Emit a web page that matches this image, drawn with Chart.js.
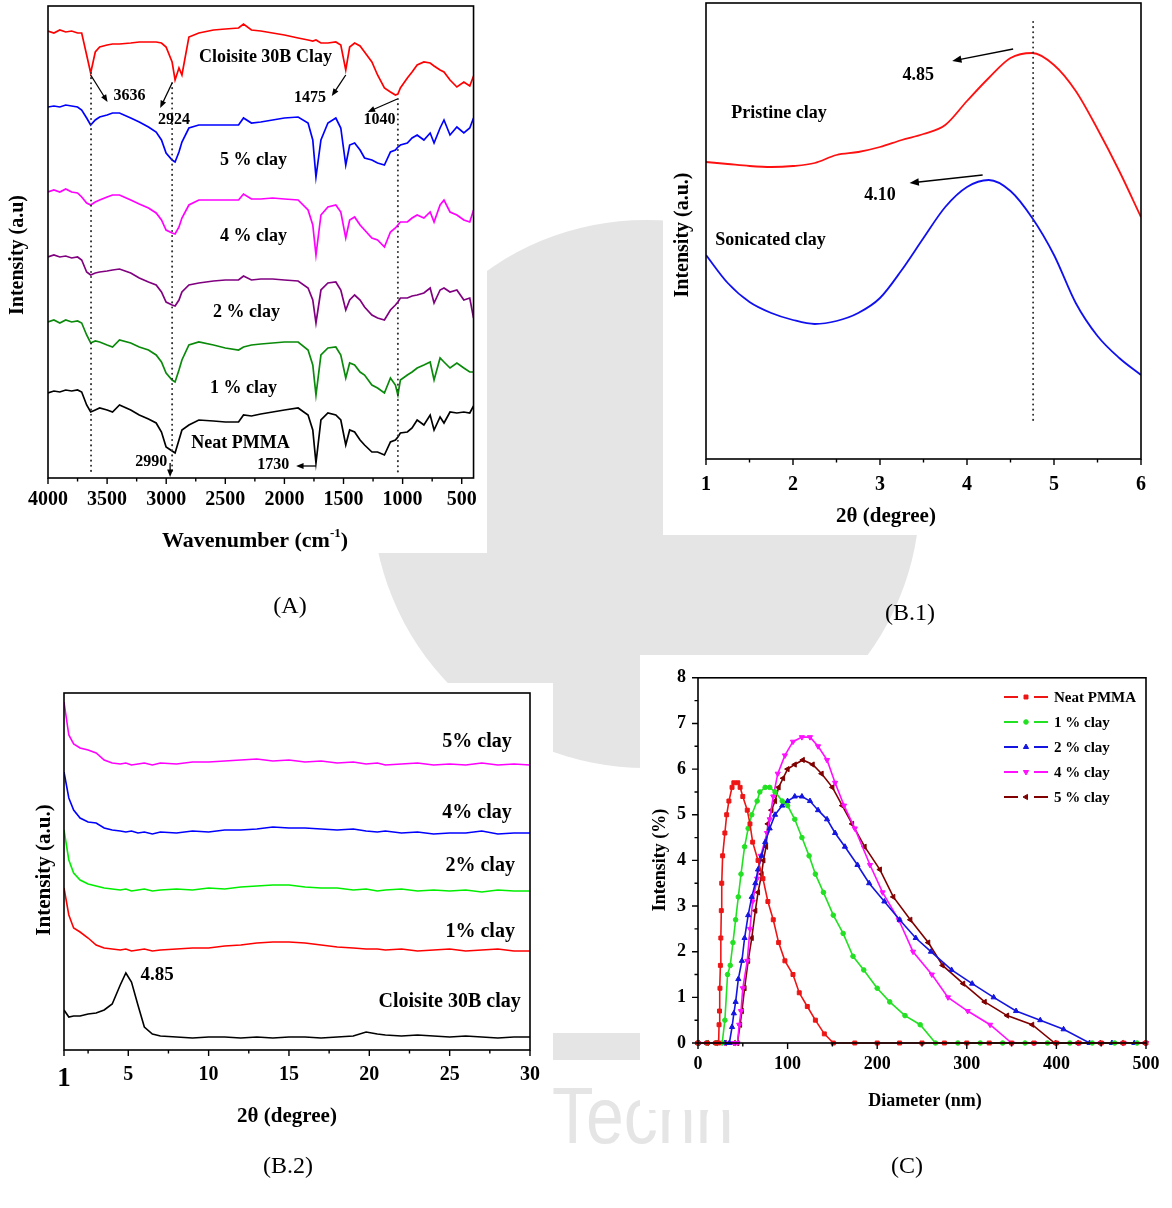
<!DOCTYPE html>
<html>
<head>
<meta charset="utf-8">
<title>PMMA / Cloisite 30B characterisation</title>
<script src="https://cdn.jsdelivr.net/npm/chart.js@4.4.1/dist/chart.umd.min.js"></script>
<style>
  html, body { margin: 0; padding: 0; background: #fff; }
  body { position: relative; width: 1172px; height: 1208px; overflow: hidden; }
  canvas { display: block; }
  #wash { position: absolute; left: 0; top: 0; }
  .panel { position: absolute; background: #fff; }
  .cap { position: absolute; font: 24px "Liberation Serif", serif; color: #000;
         transform: translate(-50%, -50%); white-space: nowrap; }
</style>
</head>
<body>
<canvas id="wash" width="1172" height="1208"></canvas>
<div class="panel" style="left:0;top:0;width:487px;height:553px"><canvas id="ftir" width="487" height="553"></canvas></div>
<div class="panel" style="left:663px;top:0;width:509px;height:535px"><canvas id="xrdLow" width="509" height="535"></canvas></div>
<div class="panel" style="left:30px;top:683px;width:523px;height:457px"><canvas id="xrdComp" width="523" height="457"></canvas></div>
<div class="panel" style="left:640px;top:655px;width:532px;height:455px"><canvas id="dls" width="532" height="455"></canvas></div>
<div class="cap" style="left:290px;top:605px">(A)</div>
<div class="cap" style="left:910px;top:612px">(B.1)</div>
<div class="cap" style="left:288px;top:1165px">(B.2)</div>
<div class="cap" style="left:907px;top:1165px">(C)</div>

<script>
const SERIF = '"Liberation Serif", "Times New Roman", serif';

// ===== (A) FTIR spectra, offset intensity (a.u.) =====
const ftirWn = [4000, 3950, 3900, 3850, 3800, 3750, 3715, 3673, 3639, 3600, 3563, 3500, 3454, 3395,
  3300, 3228, 3150, 3085, 3040, 3001, 2950, 2925, 2892, 2867, 2808, 2724, 2600, 2500, 2388, 2346,
  2279, 2200, 2100, 2000, 1884, 1800, 1760, 1733, 1691, 1632, 1565, 1523, 1481, 1448, 1406, 1360,
  1322, 1260, 1212, 1154, 1103, 1061, 1040, 1019, 960, 920, 877, 820, 767, 734, 683, 650, 599,
  541, 482, 432, 400];
const ftirClay = [447, 445, 448, 446, 447, 445, 445, 423, 405, 426, 431, 433, 434, 434, 435, 436, 436,
  436, 435, 431, 416, 398, 410, 403, 441, 445, 448, 449, 450, 454, 448, 447, 445, 443, 440, 438, 437,
  438, 435, 435, 436, 433, 408, 431, 435, 432, 426, 416, 403, 390, 386, 383, 384, 390, 400, 406, 413,
  416, 415, 412, 408, 406, 398, 391, 396, 392, 402];
const ftir5 = [371, 372, 371, 373, 372, 371, 368, 360, 353, 358, 361, 363, 365, 365, 360, 356, 351,
  346, 338, 325, 318, 316, 326, 336, 350, 353, 353, 353, 353, 360, 355, 356, 358, 360, 361, 355, 338,
  301, 338, 355, 360, 350, 313, 333, 335, 328, 320, 318, 315, 313, 326, 328, 331, 333, 335, 340, 343,
  338, 345, 335, 350, 358, 343, 351, 345, 350, 360];
const ftir4 = [286, 288, 286, 289, 286, 285, 281, 275, 273, 276, 278, 281, 283, 283, 278, 274, 270,
  265, 258, 248, 245, 244, 251, 260, 273, 278, 278, 278, 278, 284, 279, 279, 280, 279, 278, 268, 253,
  223, 263, 271, 273, 266, 240, 258, 261, 253, 248, 240, 238, 231, 246, 250, 253, 256, 256, 260, 263,
  260, 266, 256, 273, 278, 266, 263, 258, 256, 268];
const ftir2 = [221, 223, 221, 222, 220, 221, 218, 206, 203, 205, 206, 207, 208, 209, 205, 200, 196,
  193, 186, 176, 173, 172, 178, 186, 193, 195, 197, 198, 198, 202, 198, 199, 199, 198, 197, 190, 178,
  155, 188, 195, 196, 188, 168, 178, 183, 178, 171, 163, 160, 158, 168, 173, 176, 180, 180, 182, 183,
  185, 190, 175, 188, 190, 186, 188, 178, 180, 160];
const ftir1 = [156, 158, 155, 158, 156, 157, 155, 143, 135, 137, 136, 133, 131, 138, 135, 131, 128,
  123, 116, 105, 98, 96, 108, 118, 133, 136, 133, 130, 128, 131, 133, 134, 135, 136, 136, 128, 113,
  83, 123, 130, 131, 123, 100, 115, 113, 106, 103, 93, 90, 85, 100, 93, 83, 98, 103, 106, 110, 113,
  116, 98, 120, 116, 110, 115, 110, 106, 106];
const ftirNeat = [85, 87, 86, 88, 87, 88, 86, 73, 66, 68, 70, 68, 66, 73, 68, 63, 59, 55, 46, 31, 27,
  25, 38, 48, 53, 58, 57, 56, 56, 63, 62, 64, 66, 68, 70, 63, 48, 15, 58, 65, 63, 58, 33, 48, 46, 38,
  33, 26, 26, 23, 36, 38, 41, 45, 46, 50, 58, 53, 63, 48, 61, 55, 66, 65, 66, 65, 72];
const ftirTicks = [4000, 3500, 3000, 2500, 2000, 1500, 1000, 500];
const ftirTags = [['Cloisite 30B Clay', 2161, 421], ['5 % clay', 2262, 318], ['4 % clay', 2262, 242],
  ['2 % clay', 2321, 166], ['1 % clay', 2346, 90], ['Neat PMMA', 2371, 35]];
const ftirPeaks = [['3636', 3311, 382], ['2924', 2934, 358], ['1475', 1783, 380], ['1040', 1196, 358],
  ['2990', 3127, 16], ['1730', 2094, 13]];
const ftirGuides = [[3636, 405], [2950, 395], [1040, 379]];
const ftirArrows = [[3639, 403, 3496, 376], [2950, 395, 3051, 370], [1481, 403, 1599, 382],
  [1045, 379, 1296, 366], [2967, 15, 2967, 1], [1733, 12, 1901, 12]];

// ===== (B.1) low-angle XRD of the clay =====
const lowAngle = [1, 1.25, 1.5, 1.75, 2, 2.25, 2.5, 2.75, 3, 3.25, 3.5, 3.75, 4, 4.25, 4.5, 4.75, 5,
  5.25, 5.5, 5.75, 6];
const pristine = [297, 295, 293, 292, 293, 296, 304, 307, 312, 319, 325, 334, 358, 381, 401, 406, 394,
  368, 330, 288, 242];
const sonicated = [204, 176, 157, 146, 139, 135, 138, 146, 161, 189, 221, 252, 272, 279, 268, 241, 204,
  156, 123, 101, 84];
const lowTags = [['Pristine clay', 1.84, 346], ['Sonicated clay', 1.74, 219], ['4.85', 3.44, 384],
  ['4.10', 3.0, 264]];
const lowArrows = [[4.53, 410, 3.83, 398], [4.18, 284, 3.34, 276]];
const lowGuide = [4.76, 39, 437];

// ===== (B.2) XRD of the composites =====
const compAngle = [1, 1.3, 1.6, 2, 2.5, 3, 3.5, 4, 4.5, 4.85, 5.2, 5.6, 6, 6.5, 7, 8, 9, 10, 11, 12,
  13, 14, 15, 16, 17, 18, 19, 19.8, 20.5, 21, 22, 23, 24, 25, 26, 27, 28, 29, 30];
const comp5 = [348, 315, 306, 302, 300, 297, 290, 287, 286, 287, 285, 286, 287, 285, 287, 286, 288, 288,
  289, 290, 291, 289, 290, 288, 289, 287, 288, 286, 287, 285, 286, 287, 285, 286, 285, 287, 285, 286, 285];
const comp4 = [278, 252, 240, 232, 228, 227, 222, 220, 219, 218, 219, 217, 218, 216, 218, 217, 219, 218,
  220, 220, 221, 223, 222, 222, 221, 220, 221, 219, 218, 219, 217, 218, 216, 217, 217, 219, 216, 217, 217];
const comp2 = [220, 190, 177, 170, 166, 164, 162, 161, 160, 161, 159, 160, 161, 159, 160, 161, 160, 162,
  161, 163, 164, 165, 165, 163, 162, 162, 160, 161, 159, 160, 161, 159, 160, 159, 160, 158, 160, 159, 159];
const comp1 = [162, 135, 122, 118, 112, 105, 102, 101, 100, 101, 99, 100, 101, 99, 100, 101, 102, 102,
  104, 105, 107, 108, 108, 107, 105, 103, 102, 101, 101, 100, 101, 99, 100, 101, 99, 100, 101, 99, 99];
const compClay = [40, 33, 34, 34, 36, 37, 40, 46, 65, 77, 68, 45, 23, 16, 14, 13, 12, 13, 13, 12, 13, 12,
  13, 13, 12, 13, 14, 18, 16, 15, 14, 15, 14, 13, 14, 13, 12, 13, 13];
const compTicks = [1, 5, 10, 15, 20, 25, 30];
const compTags = [['5% clay', 26.7, 308], ['4% clay', 26.7, 237], ['2% clay', 26.9, 184],
  ['1% clay', 26.9, 118], ['Cloisite 30B clay', 25.0, 48], ['4.85', 6.8, 75]];

// ===== (C) DLS size distribution =====
const neatD = [0, 10, 20, 23, 23.5, 24, 24.5, 25, 25.5, 26, 26.5, 27.5, 30, 32, 34.5, 38, 40, 44.5, 47,
  50, 55, 58, 61, 67, 72.5, 78, 84, 90, 97, 106, 113, 122, 131, 141, 151, 175, 200, 225, 250, 275, 300,
  325, 350, 375, 400, 425, 450, 475, 500];
const neatI = [0, 0, 0, 0, 0.4, 0.7, 1.2, 1.7, 2.3, 2.9, 3.5, 4.1, 4.6, 5.0, 5.3, 5.6, 5.7, 5.7, 5.6,
  5.4, 5.1, 4.8, 4.4, 4.0, 3.6, 3.1, 2.7, 2.2, 1.8, 1.5, 1.1, 0.8, 0.5, 0.2, 0, 0, 0, 0, 0, 0, 0, 0,
  0, 0, 0, 0, 0, 0, 0];
const clay1D = [0, 10, 20, 27, 30, 33, 36, 39, 42, 45, 48, 52, 56, 60, 66, 69, 75, 80, 86, 94, 100, 108,
  116, 124, 131, 140, 151, 162, 173, 185, 200, 214, 231, 248, 265, 290, 315, 340, 365, 390, 415, 440,
  465, 490];
const clay1I = [0, 0, 0, 0, 0.5, 1.5, 1.7, 2.2, 2.7, 3.2, 3.7, 4.3, 4.7, 5.0, 5.3, 5.5, 5.6, 5.6, 5.5,
  5.3, 5.2, 4.9, 4.5, 4.1, 3.7, 3.3, 2.8, 2.4, 1.9, 1.6, 1.2, 0.9, 0.6, 0.4, 0, 0, 0, 0, 0, 0, 0, 0, 0, 0];
const clay2D = [0, 10, 20, 30, 35, 38, 40, 42, 45, 49, 52, 56, 60, 64, 67, 71, 75, 80, 86, 94, 100, 108,
  116, 125, 134, 144, 153, 164, 178, 191, 208, 225, 243, 260, 283, 306, 330, 355, 382, 408, 437, 462, 487];
const clay2I = [0, 0, 0, 0, 0, 0.35, 0.65, 0.9, 1.4, 1.8, 2.3, 2.8, 3.2, 3.5, 3.8, 4.1, 4.4, 4.7, 5.0,
  5.2, 5.3, 5.4, 5.4, 5.3, 5.1, 4.9, 4.6, 4.3, 3.9, 3.5, 3.1, 2.7, 2.3, 2.0, 1.6, 1.3, 1.0, 0.7, 0.5,
  0.3, 0, 0, 0];
const clay4D = [0, 10, 20, 30, 40, 44, 46, 48, 50, 55, 58, 61, 66, 70, 77, 80, 84, 89, 97, 106, 116, 125,
  134, 144, 153, 163, 175, 192, 206, 224, 240, 261, 279, 301, 326, 350, 375, 400, 425, 450, 475, 500];
const clay4I = [0, 0, 0, 0, 0, 0, 0.4, 0.7, 1.2, 1.8, 2.5, 3.1, 3.6, 4.1, 4.6, 4.9, 5.4, 5.9, 6.3, 6.6,
  6.7, 6.7, 6.5, 6.2, 5.7, 5.2, 4.7, 3.9, 3.3, 2.7, 2.0, 1.5, 1.0, 0.7, 0.4, 0, 0, 0, 0, 0, 0, 0];
const clay5D = [0, 10, 20, 30, 40, 44, 47, 49, 52, 56, 60, 64, 67, 71, 73, 76, 78, 82, 86, 90, 95, 100,
  108, 117, 128, 138, 150, 161, 172, 186, 203, 218, 237, 257, 273, 296, 320, 345, 373, 398, 423, 448,
  473, 498];
const clay5I = [0, 0, 0, 0, 0, 0, 0.4, 0.7, 1.2, 1.8, 2.3, 2.9, 3.3, 3.7, 4.0, 4.3, 4.8, 5.1, 5.3, 5.6,
  5.8, 6.0, 6.1, 6.2, 6.1, 5.9, 5.6, 5.2, 4.8, 4.3, 3.8, 3.2, 2.7, 2.2, 1.7, 1.3, 0.9, 0.6, 0.4, 0, 0,
  0, 0, 0];

// ===== helpers =====
function xy(xs, ys) { return xs.map((v, i) => ({ x: v, y: ys[i] })); }
function font(size, weight) { return `${weight || 'bold'} ${size}px ${SERIF}`; }

function text(ctx, s, x, y, size, align) {
  ctx.font = font(size);
  ctx.textAlign = align || 'center';
  ctx.textBaseline = 'middle';
  ctx.fillStyle = '#000';
  ctx.fillText(s, x, y);
}

function vText(ctx, s, x, y, size) {
  ctx.save();
  ctx.translate(x, y);
  ctx.rotate(-Math.PI / 2);
  text(ctx, s, 0, 0, size);
  ctx.restore();
}

function arrow(ctx, x1, y1, x2, y2, head) {
  const a = Math.atan2(y2 - y1, x2 - x1);
  ctx.beginPath();
  ctx.moveTo(x1, y1);
  ctx.lineTo(x2 - head * 0.7 * Math.cos(a), y2 - head * 0.7 * Math.sin(a));
  ctx.stroke();
  ctx.beginPath();
  ctx.moveTo(x2, y2);
  ctx.lineTo(x2 - head * Math.cos(a - 0.38), y2 - head * Math.sin(a - 0.38));
  ctx.lineTo(x2 - head * Math.cos(a + 0.38), y2 - head * Math.sin(a + 0.38));
  ctx.closePath();
  ctx.fill();
}

function dotted(ctx, x1, y1, x2, y2) {
  ctx.save();
  ctx.setLineDash([0.1, 5]);
  ctx.lineCap = 'round';
  ctx.lineWidth = 2;
  ctx.strokeStyle = '#333';
  ctx.beginPath();
  ctx.moveTo(x1, y1);
  ctx.lineTo(x2, y2);
  ctx.stroke();
  ctx.restore();
}

function minorValues(scale, step) {
  const majors = scale.ticks.map(t => t.value);
  const out = [];
  for (let v = Math.ceil(scale.min / step - 1e-9) * step; v <= scale.max + 1e-9; v += step) {
    if (!majors.some(m => Math.abs(m - v) < step / 10)) out.push(v);
  }
  return out;
}

// box frame with outward major/minor ticks on the bottom (and left when asked)
function boxAxes(xMinor, yMinor) {
  return {
    id: 'boxAxes',
    afterDatasetsDraw(chart) {
      const { ctx, chartArea: a, scales: { x, y } } = chart;
      ctx.save();
      ctx.strokeStyle = '#000';
      ctx.lineWidth = 1.6;
      ctx.strokeRect(a.left, a.top, a.right - a.left, a.bottom - a.top);
      ctx.lineWidth = 1.4;
      ctx.beginPath();
      x.ticks.forEach(t => {
        const p = x.getPixelForValue(t.value);
        ctx.moveTo(p, a.bottom); ctx.lineTo(p, a.bottom + 6);
      });
      minorValues(x, xMinor).forEach(v => {
        const p = x.getPixelForValue(v);
        ctx.moveTo(p, a.bottom); ctx.lineTo(p, a.bottom + 3.5);
      });
      if (yMinor) {
        y.ticks.forEach(t => {
          const p = y.getPixelForValue(t.value);
          ctx.moveTo(a.left, p); ctx.lineTo(a.left - 6, p);
        });
        minorValues(y, yMinor).forEach(v => {
          const p = y.getPixelForValue(v);
          ctx.moveTo(a.left, p); ctx.lineTo(a.left - 3.5, p);
        });
      }
      ctx.stroke();
      ctx.restore();
    }
  };
}

function bottomAxis(o) {
  return {
    type: 'linear', min: o.min, max: o.max, reverse: !!o.reverse,
    afterFit: s => { s.height = o.height; },
    afterBuildTicks: o.ticks ? s => { s.ticks = o.ticks.map(v => ({ value: v })); } : undefined,
    grid: { display: false, drawTicks: false },
    border: { display: false },
    ticks: {
      stepSize: o.step, includeBounds: false, autoSkip: false, maxRotation: 0, minRotation: 0,
      padding: o.pad, color: '#000', callback: v => String(v),
      font: o.font || { family: SERIF, size: o.size, weight: 'bold' }
    }
  };
}

function baseOptions(padding, scales) {
  return {
    responsive: false, animation: false, events: [],
    layout: { autoPadding: false, padding },
    plugins: { legend: { display: false }, tooltip: { enabled: false } },
    scales
  };
}

// ===== page watermark behind the panels =====
(function drawWash() {
  const c = document.getElementById('wash').getContext('2d');
  c.fillStyle = '#e5e5e5';
  c.beginPath();
  c.arc(646, 494, 274, 0, Math.PI * 2);
  c.fill();
  c.fillRect(552, 1033, 90, 27);
  c.save();
  c.scale(0.85, 1);
  c.font = '80px "Liberation Sans", sans-serif';
  c.textBaseline = 'alphabetic';
  c.fillText('Techn', 552 / 0.85, 1143);
  c.restore();
})();

// ===== (A) =====
const ftirNotes = {
  id: 'ftirNotes',
  afterDraw(chart) {
    const { ctx, chartArea: a, scales: { x, y } } = chart;
    ctx.save();
    ftirGuides.forEach(([w, top]) => {
      const px = x.getPixelForValue(w);
      dotted(ctx, px, y.getPixelForValue(top), px, a.bottom - 4);
    });
    ctx.strokeStyle = '#000';
    ctx.fillStyle = '#000';
    ctx.lineWidth = 1.3;
    ftirArrows.forEach(([w1, i1, w2, i2]) => arrow(ctx,
      x.getPixelForValue(w1), y.getPixelForValue(i1), x.getPixelForValue(w2), y.getPixelForValue(i2), 8));
    ftirTags.forEach(([s, w, i]) => text(ctx, s, x.getPixelForValue(w), y.getPixelForValue(i), 18));
    ftirPeaks.forEach(([s, w, i]) => text(ctx, s, x.getPixelForValue(w), y.getPixelForValue(i), 16));

    // axis titles
    const main = 'Wavenumber (cm', sup = '-1', tail = ')';
    ctx.font = font(22);
    const w1 = ctx.measureText(main).width, w3 = ctx.measureText(tail).width;
    ctx.font = font(13);
    const w2 = ctx.measureText(sup).width;
    let tx = 255 - (w1 + w2 + w3) / 2;
    ctx.textAlign = 'left';
    ctx.textBaseline = 'alphabetic';
    ctx.font = font(22); ctx.fillText(main, tx, 547); tx += w1;
    ctx.font = font(13); ctx.fillText(sup, tx, 537); tx += w2;
    ctx.font = font(22); ctx.fillText(tail, tx, 547);
    vText(ctx, 'Intensity (a.u)', 18, 255, 20);
    ctx.restore();
  }
};

const ftirSeries = [
  { color: '#ff0000', values: ftirClay },
  { color: '#0000ff', values: ftir5 },
  { color: '#ff00ff', values: ftir4 },
  { color: '#800080', values: ftir2 },
  { color: '#0a8a0a', values: ftir1 },
  { color: '#000000', values: ftirNeat }
];

new Chart(document.getElementById('ftir'), {
  type: 'line',
  data: {
    datasets: ftirSeries.map(s => ({
      data: xy(ftirWn, s.values), borderColor: s.color, borderWidth: 1.7, pointRadius: 0, tension: 0
    }))
  },
  options: baseOptions({ left: 48, top: 6, right: 10, bottom: 0 }, {
    x: bottomAxis({ min: 400, max: 4000, reverse: true, ticks: ftirTicks, height: 75, pad: 10, size: 20 }),
    y: { display: false, min: 0, max: 472 }
  }),
  plugins: [boxAxes(250), ftirNotes]
});

// ===== (B.1) =====
const lowNotes = {
  id: 'lowNotes',
  afterDraw(chart) {
    const { ctx, scales: { x, y } } = chart;
    ctx.save();
    const gx = x.getPixelForValue(lowGuide[0]);
    dotted(ctx, gx, y.getPixelForValue(lowGuide[2]), gx, y.getPixelForValue(lowGuide[1]));
    ctx.strokeStyle = '#000';
    ctx.fillStyle = '#000';
    ctx.lineWidth = 1.3;
    lowArrows.forEach(([d1, i1, d2, i2]) => arrow(ctx,
      x.getPixelForValue(d1), y.getPixelForValue(i1), x.getPixelForValue(d2), y.getPixelForValue(i2), 10));
    lowTags.forEach(([s, d, i]) => text(ctx, s, x.getPixelForValue(d), y.getPixelForValue(i), 18));
    text(ctx, '2θ (degree)', 223, 517, 21);
    vText(ctx, 'Intensity (a.u.)', 20, 235, 20);
    ctx.restore();
  }
};

new Chart(document.getElementById('xrdLow'), {
  type: 'line',
  data: {
    datasets: [
      { data: xy(lowAngle, pristine), borderColor: '#ff1010', borderWidth: 1.8, pointRadius: 0, cubicInterpolationMode: 'monotone' },
      { data: xy(lowAngle, sonicated), borderColor: '#1010ee', borderWidth: 1.8, pointRadius: 0, cubicInterpolationMode: 'monotone' }
    ]
  },
  options: baseOptions({ left: 43, top: 3, right: 31, bottom: 0 }, {
    x: bottomAxis({ min: 1, max: 6, step: 1, height: 76, pad: 14, size: 20 }),
    y: { display: false, min: 0, max: 456 }
  }),
  plugins: [boxAxes(0.5), lowNotes]
});

// ===== (B.2) =====
const compNotes = {
  id: 'compNotes',
  afterDraw(chart) {
    const { ctx, scales: { x, y } } = chart;
    ctx.save();
    compTags.forEach(([s, d, i]) => text(ctx, s, x.getPixelForValue(d), y.getPixelForValue(i), s === '4.85' ? 19 : 20));
    text(ctx, '2θ (degree)', 257, 434, 21);
    vText(ctx, 'Intensity (a.u.)', 15, 187, 21);
    ctx.restore();
  }
};

const compSeries = [
  { color: '#ff00ff', values: comp5 },
  { color: '#0000ff', values: comp4 },
  { color: '#00ee00', values: comp2 },
  { color: '#ff0000', values: comp1 },
  { color: '#000000', values: compClay }
];

new Chart(document.getElementById('xrdComp'), {
  type: 'line',
  data: {
    datasets: compSeries.map(s => ({
      data: xy(compAngle, s.values), borderColor: s.color, borderWidth: 1.6, pointRadius: 0, tension: 0
    }))
  },
  options: baseOptions({ left: 34, top: 10, right: 20, bottom: 0 }, {
    x: bottomAxis({
      min: 1, max: 30, ticks: compTicks, height: 90, pad: 13,
      font: c => ({ family: SERIF, size: c.tick && c.tick.value === 1 ? 27 : 20, weight: 'bold' })
    }),
    y: { display: false, min: 0, max: 357 }
  }),
  plugins: [boxAxes(2.5), compNotes]
});

// ===== (C) =====
const dlsSeries = [
  { label: 'Neat PMMA', d: neatD, i: neatI, color: '#ee1515', style: 'rect', rot: 0, r: 2.8 },
  { label: '1 % clay', d: clay1D, i: clay1I, color: '#22e022', style: 'circle', rot: 0, r: 2.3 },
  { label: '2 % clay', d: clay2D, i: clay2I, color: '#1515e0', style: 'triangle', rot: 0, r: 3 },
  { label: '4 % clay', d: clay4D, i: clay4I, color: '#ff10ff', style: 'triangle', rot: 180, r: 3 },
  { label: '5 % clay', d: clay5D, i: clay5I, color: '#800000', style: 'triangle', rot: -90, r: 3 }
];

const dlsNotes = {
  id: 'dlsNotes',
  afterDraw(chart) {
    const { ctx } = chart;
    ctx.save();
    dlsSeries.forEach((s, k) => {
      const ly = 42 + 25 * k, lx = 364;
      ctx.strokeStyle = s.color;
      ctx.fillStyle = s.color;
      ctx.lineWidth = 1.8;
      ctx.beginPath();
      ctx.moveTo(lx, ly); ctx.lineTo(lx + 14, ly);
      ctx.moveTo(lx + 30, ly); ctx.lineTo(lx + 44, ly);
      ctx.stroke();
      ctx.lineWidth = 1;
      Chart.helpers.drawPoint(ctx, { pointStyle: s.style, radius: s.r, rotation: s.rot, borderWidth: 1 }, lx + 22, ly);
      text(ctx, s.label, lx + 50, ly + 1, 15, 'left');
    });
    text(ctx, 'Diameter (nm)', 285, 446, 18);
    vText(ctx, 'Intensity (%)', 20, 205, 18);
    ctx.restore();
  }
};

new Chart(document.getElementById('dls'), {
  type: 'line',
  data: {
    datasets: dlsSeries.map(s => ({
      data: xy(s.d, s.i), borderColor: s.color, backgroundColor: s.color, borderWidth: 1.6,
      pointStyle: s.style, pointRotation: s.rot, pointRadius: s.r, pointBorderWidth: 1,
      tension: 0, clip: 8
    }))
  },
  options: baseOptions({ left: 0, top: 18, right: 26, bottom: 0 }, {
    x: bottomAxis({ min: 0, max: 500, step: 100, height: 67, pad: 11, size: 18 }),
    y: {
      type: 'linear', position: 'left', min: 0, max: 8,
      afterFit: s => { s.width = 58; },
      grid: { display: false, drawTicks: false },
      border: { display: false },
      ticks: { stepSize: 1, padding: 12, color: '#000', font: { family: SERIF, size: 18, weight: 'bold' } }
    }
  }),
  plugins: [boxAxes(50, 0.5), dlsNotes]
});
</script>
</body>
</html>
